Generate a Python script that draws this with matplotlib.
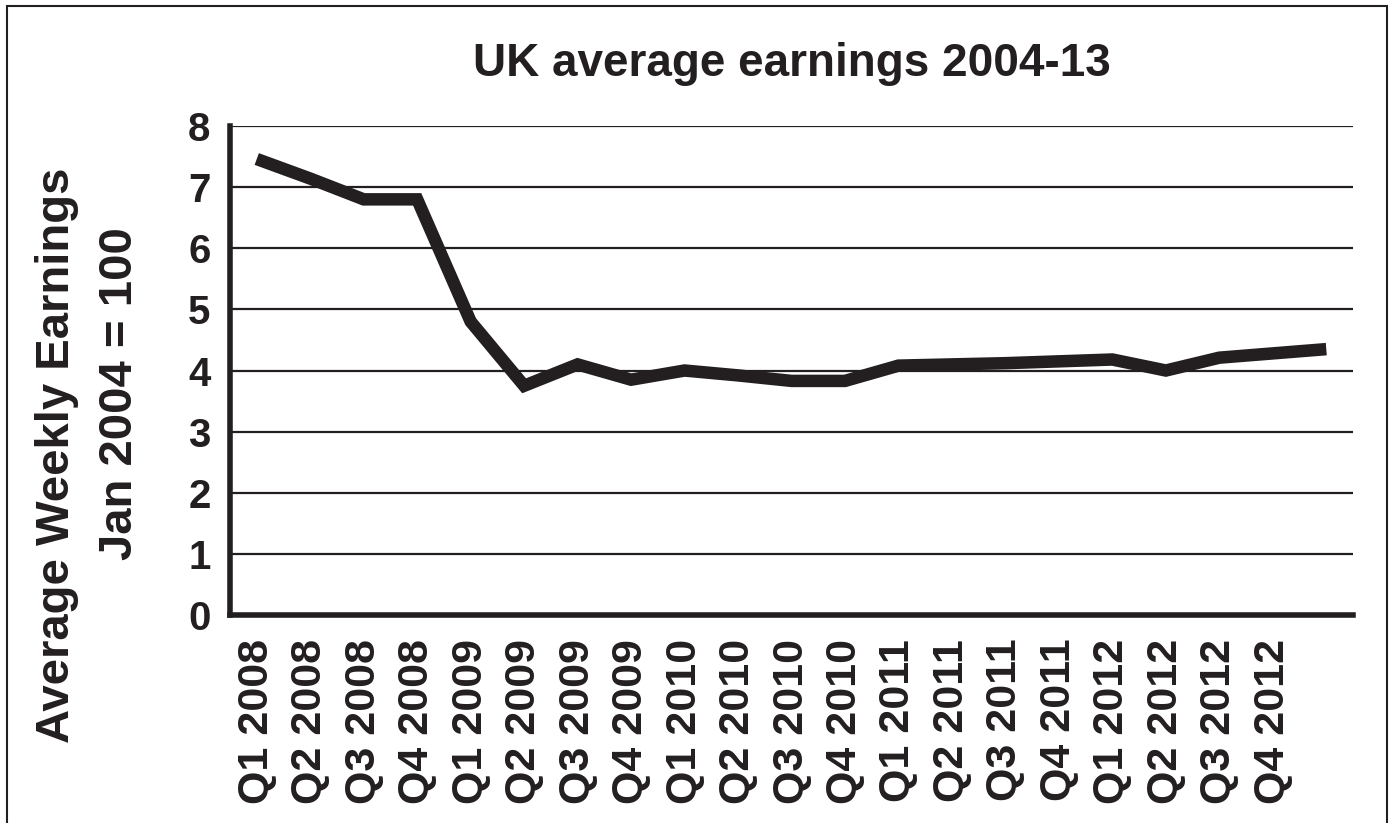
import matplotlib.pyplot as plt
from matplotlib.patches import Rectangle

# quarterly index values, the last point has no label on the axis
quarters = ['Q1 2008', 'Q2 2008', 'Q3 2008', 'Q4 2008',
            'Q1 2009', 'Q2 2009', 'Q3 2009', 'Q4 2009',
            'Q1 2010', 'Q2 2010', 'Q3 2010', 'Q4 2010',
            'Q1 2011', 'Q2 2011', 'Q3 2011', 'Q4 2011',
            'Q1 2012', 'Q2 2012', 'Q3 2012', 'Q4 2012', '']
earnings = [7.46, 7.14, 6.80, 6.80,
            4.80, 3.75, 4.10, 3.85,
            4.00, 3.92, 3.83, 3.83,
            4.08, 4.10, 4.12, 4.15,
            4.18, 4.00, 4.21, 4.28, 4.35]
y_ticks = [0, 1, 2, 3, 4, 5, 6, 7, 8]

ink = '#231f20'
plt.rcParams['font.family'] = ['Liberation Sans', 'DejaVu Sans']
plt.rcParams['font.weight'] = 'bold'

fig = plt.figure(figsize=(13.94, 8.23), dpi=100)
ax = fig.add_axes([0.165, 0.2527, 0.8056, 0.5942])

x = list(range(len(earnings)))
ax.plot(x, earnings, color=ink, linewidth=9, solid_joinstyle='miter',
        solid_capstyle='butt', zorder=3)

ax.set_xlim(-0.5, len(earnings) - 0.5)
ax.set_ylim(0, 8)
ax.set_yticks(y_ticks)
ax.set_yticklabels([str(t) for t in y_ticks], fontsize=29, fontweight='bold')
ax.set_xticks(x)
ax.set_xticklabels(quarters, rotation=90, fontsize=31, fontweight='bold')
ax.tick_params(length=0, colors=ink)
ax.tick_params(axis='y', pad=14)
ax.tick_params(axis='x', pad=17)

ax.grid(axis='y', color=ink, linewidth=1.6, zorder=1)
ax.set_axisbelow(True)
for side in ['top', 'right']:
    ax.spines[side].set_visible(False)
for side in ['left', 'bottom']:
    ax.spines[side].set_linewidth(4)
    ax.spines[side].set_color(ink)

ax.set_title('UK average earnings 2004-13', fontsize=33, fontweight='bold',
             color=ink, pad=36)

# two-line axis title, each line placed on its own
fig.text(57 / 1394, 1 - 455 / 823, 'Average Weekly Earnings', rotation=90,
         ha='center', va='center', fontsize=34, fontweight='bold', color=ink)
fig.text(120 / 1394, 1 - 394 / 823, 'Jan 2004 = 100', rotation=90,
         ha='center', va='center', fontsize=34, fontweight='bold', color=ink)

# thin border around the whole figure
fig.patches.append(Rectangle((0.005, -0.05), 0.99, 1.043, transform=fig.transFigure,
                             fill=False, edgecolor=ink, linewidth=1.5))

plt.savefig('out.png', dpi=100)
